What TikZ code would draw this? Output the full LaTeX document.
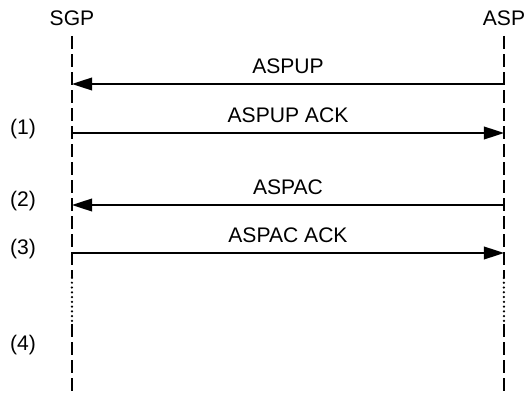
\documentclass[tikz,border=0pt]{standalone}
\usepackage{fontspec}
\setmainfont{Liberation Sans}
\usepackage{tikz}
\usetikzlibrary{arrows.meta}

\begin{document}
\begin{tikzpicture}[
  x=0.2mm, y=-0.2mm,
  font=\fontsize{12}{14}\selectfont,
  ent/.style   = {inner sep=0pt, anchor=center},
  num/.style   = {inner sep=0pt, anchor=center},
  life/.style  = {line width=0.45mm, dash pattern=on 2.5mm off 1.1mm},
  gap/.style   = {line width=0.5mm, line cap=round, dash pattern=on 0pt off 0.95mm},
  msg/.style   = {line width=0.45mm, -{Triangle[length=4mm, width=2.5mm]}},
  lbl/.style   = {inner sep=0pt, above=1.9mm},
]
\useasboundingbox (0,0) rectangle (524,396);

%% ── Entities ────────────────────────────────────────────────────────────────
\node[ent] (sgp) at ( 72,18) {SGP};
\node[ent] (asp) at (504,18) {ASP};

%% ── Lifelines ───────────────────────────────────────────────────────────────
\coordinate (sgpTop) at ( 72,36);  \coordinate (aspTop) at (504,36);
\coordinate (sgpDa)  at ( 72,278); \coordinate (aspDa)  at (504,278);
\coordinate (sgpDb)  at ( 72,324); \coordinate (aspDb)  at (504,324);
\coordinate (sgpBot) at ( 72,396); \coordinate (aspBot) at (504,396);
\draw[life] (sgpTop)--(sgpDa); \draw[gap] (sgpDa)--(sgpDb); \draw[life] (sgpDb)--(sgpBot);
\draw[life] (aspTop)--(aspDa); \draw[gap] (aspDa)--(aspDb); \draw[life] (aspDb)--(aspBot);

%% ── Messages ────────────────────────────────────────────────────────────────
\coordinate (s1) at (72, 84); \coordinate (a1) at (504, 84);
\coordinate (s2) at (72,133); \coordinate (a2) at (504,133);
\coordinate (s3) at (72,205); \coordinate (a3) at (504,205);
\coordinate (s4) at (72,253); \coordinate (a4) at (504,253);
\draw[msg] (a1) -- node[lbl] {ASPUP} (s1);
\draw[msg] (s2) -- node[lbl] {ASPUP ACK} (a2);
\draw[msg] (a3) -- node[lbl] {ASPAC} (s3);
\draw[msg] (s4) -- node[lbl] {ASPAC ACK} (a4);

%% ── Step marks ──────────────────────────────────────────────────────────────
\node[num] (n1) at (23,129) {(1)};
\node[num] (n2) at (23,201) {(2)};
\node[num] (n3) at (23,249) {(3)};
\node[num] (n4) at (23,345) {(4)};

\end{tikzpicture}
\end{document}
